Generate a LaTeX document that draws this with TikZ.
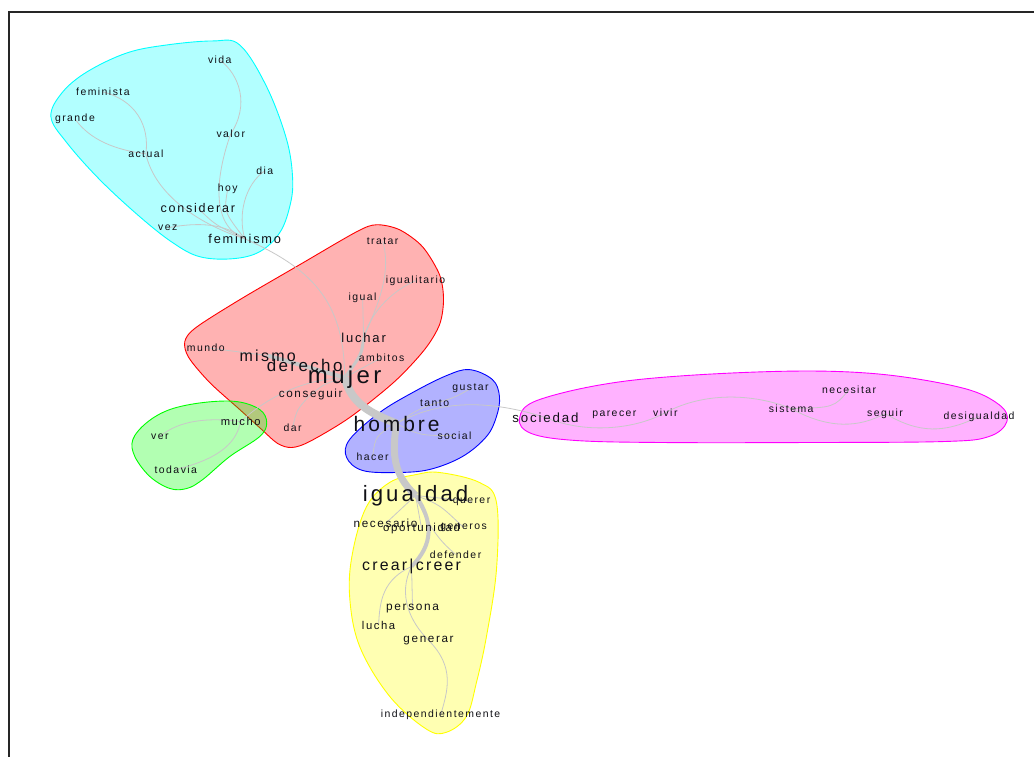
\documentclass[tikz,border=0pt]{standalone}
\usepackage{fontspec}
\setmainfont{Liberation Sans}[LetterSpace=14]
\definecolor{txt}{RGB}{16,16,22}
\definecolor{edgec}{RGB}{200,200,200}
\definecolor{ccyan}{RGB}{0,255,255}
\definecolor{cred}{RGB}{255,0,0}
\definecolor{cgreen}{RGB}{0,255,0}
\definecolor{cblue}{RGB}{0,0,255}
\definecolor{cmag}{RGB}{255,0,255}
\definecolor{cyel}{RGB}{255,255,0}
\pgfdeclarelayer{bg}
\pgfdeclarelayer{mid}
\pgfsetlayers{bg,mid,main}
\begin{document}
\begin{tikzpicture}[x=1pt,y=-1pt,
  lbl/.style={inner sep=0pt, text=txt, font=\fontsize{#1}{#1}\selectfont},
  lbl/.default=10.45,
  edge/.style={draw=edgec, line width=0.8pt},
  bigedge/.style={draw=edgec, line width=#1},
  cluster/.style={draw=#1, line width=0.9pt, fill=#1, fill opacity=0.3},
]
\begin{pgfonlayer}{bg}
\useasboundingbox (0,0) rectangle (1035,758);
\fill[white] (0,0) rectangle (1035,758);
% clusters
\draw[cluster=ccyan] plot[smooth cycle, tension=0.6] coordinates {(213,41) (240,45) (267,87) (287,140) (293,180) (290,207) (280,233) (260,252) (233,259) (200,257) (173,243) (140,217) (100,180) (67,143) (51,117) (62,93) (87,72) (127,53) (167,45)};
\draw[cluster=cred] plot[smooth cycle, tension=0.5] coordinates {(377,225) (400,230) (423,247) (440,275) (444,300) (440,325) (425,350) (395,382) (350,418) (310,442) (292,448) (278,444) (262,430) (240,410) (210,383) (189,358) (185,342) (196,328) (240,300) (300,265) (357,232)};
\draw[cluster=cgreen] plot[smooth cycle, tension=0.6] coordinates {(133,440) (147,423) (170,410) (203,403) (237,402) (260,410) (267,423) (260,437) (230,457) (203,480) (187,489) (170,489) (150,477) (135,457)};
\draw[cluster=cblue] plot[smooth cycle, tension=0.6] coordinates {(470,370) (493,380) (500,397) (497,417) (487,437) (463,457) (430,470) (397,473) (363,471) (347,458) (350,440) (380,413) (413,393) (447,376)};
\draw[cluster=cmag] plot[smooth cycle, tension=0.6] coordinates {(520,419) (540,400) (630,381) (770,372) (875,374) (962,388) (1000,405) (1008,422) (990,437) (945,442) (805,443) (665,443) (577,441) (532,434)};
\draw[cluster=cyel] plot[smooth cycle, tension=0.6] coordinates {(440,473) (480,483) (497,503) (497,570) (487,637) (477,683) (467,717) (447,733) (427,730) (390,697) (360,647) (350,597) (353,553) (367,507) (390,483) (417,475)};
\end{pgfonlayer}
% frame
\draw[line width=2.2pt, black!85] (1035,12) -- (9,12) -- (9,758);

% nodes (cyan)
\node[lbl] (vida) at (220,60) {vida};
\node[lbl] (feminista) at (103,92) {feminista};
\node[lbl] (grande) at (75,119) {grande};
\node[lbl] (valor) at (231,134) {valor};
\node[lbl] (actual) at (146,154) {actual};
\node[lbl] (dia) at (265,171) {dia};
\node[lbl] (hoy) at (228,189) {hoy};
\node[lbl=12.55] (considerar) at (198,208) {considerar};
\node[lbl] (vez) at (168,228) {vez};
\node[lbl=12.8] (feminismo) at (245,239) {feminismo};
% red
\node[lbl] (tratar) at (383,241) {tratar};
\node[lbl] (igualitario) at (416,281) {igualitario};
\node[lbl] (igual) at (363,298) {igual};
\node[lbl=13] (luchar) at (364,338) {luchar};
\node[lbl] (mundo) at (206,348) {mundo};
\node[lbl=16] (mismo) at (268,356) {mismo};
\node[lbl] (ambitos) at (382,358) {ambitos};
\node[lbl=17] (derecho) at (305,366) {derecho};
\node[lbl=24] (mujer) at (345,378) {mujer};
\node[lbl=11.7] (conseguir) at (311,395) {conseguir};
\node[lbl] (dar) at (293,428) {dar};
% green
\node[lbl=11.2] (mucho) at (241,422) {mucho};
\node[lbl] (ver) at (160,437) {ver};
\node[lbl] (todavia) at (176,470) {todavia};
% blue
\node[lbl] (gustar) at (471,389) {gustar};
\node[lbl] (tanto) at (435,404) {tanto};
\node[lbl=21] (hombre) at (397,424) {hombre};
\node[lbl] (social) at (455,436) {social};
\node[lbl] (hacer) at (373,457) {hacer};
% magenta
\node[lbl=13.3] (sociedad) at (546,418) {sociedad};
\node[lbl] (parecer) at (615,415) {parecer};
\node[lbl] (vivir) at (666,413) {vivir};
\node[lbl] (sistema) at (792,409) {sistema};
\node[lbl] (necesitar) at (850,390) {necesitar};
\node[lbl] (seguir) at (886,414) {seguir};
\node[lbl] (desigualdad) at (980,417) {desigualdad};
% yellow
\node[lbl=22.2] (igualdad) at (416,496) {igualdad};
\node[lbl] (querer) at (472,502) {querer};
\node[lbl=11.7] (necesario) at (386,524) {necesario};
\node[lbl=11.5] (oportunidad) at (422,529) {oportunidad};
\node[lbl] (generos) at (464,528) {generos};
\node[lbl] (defender) at (456,555) {defender};
\node[lbl=15.9] (crear) at (412,567) {crear|creer};
\node[lbl=11.9] (persona) at (413,609) {persona};
\node[lbl=11.3] (lucha) at (379,626) {lucha};
\node[lbl=11.7] (generar) at (429,641) {generar};
\node[lbl] (indep) at (441,716) {independientemente};

\begin{pgfonlayer}{mid}
% cyan edges
\draw[edge] (vida.center) .. controls (240,75) and (250,105) .. (valor.center);
\draw[edge] (valor.center) .. controls (218,170) and (208,225) .. (feminismo.center);
\draw[edge] (feminista.center) .. controls (135,100) and (150,125) .. (actual.center);
\draw[edge] (grande.center) .. controls (90,140) and (115,150) .. (actual.center);
\draw[edge] (actual.center) .. controls (155,195) and (200,225) .. (feminismo.center);
\draw[edge] (dia.center) .. controls (245,185) and (238,215) .. (feminismo.center);
\draw[edge] (hoy.center) .. controls (224,212) .. (feminismo.center);
\draw[edge] (considerar.center) .. controls (215,225) .. (feminismo.center);
\draw[edge] (vez.center) .. controls (200,222) and (225,224) .. (feminismo.center);
\draw[edge] (feminismo.center) .. controls (310,268) and (345,300) .. (mujer.center);
% red edges
\draw[edge] (tratar.center) .. controls (393,275) and (376,310) .. (luchar.center);
\draw[edge] (igualitario.center) .. controls (395,290) and (372,310) .. (luchar.center);
\draw[edge] (igual.center) -- (luchar.center);
\draw[bigedge=3pt] (luchar.center) .. controls (362,355) .. (mujer.center);
\draw[edge] (ambitos.center) -- (mujer.center);
\draw[bigedge=4pt] (mismo.center) -- (mujer.center);
\draw[edge] (derecho.center) -- (mujer.center);
\draw[edge] (mundo.center) -- (mismo.center);
\draw[edge] (conseguir.center) .. controls (325,384) .. (mujer.center);
\draw[edge] (dar.center) .. controls (297,410) .. (conseguir.center);
\draw[edge] (mucho.center) .. controls (265,400) and (300,380) .. (mujer.center);
% green edges
\draw[edge] (ver.center) .. controls (180,420) and (210,418) .. (mucho.center);
\draw[edge] (todavia.center) .. controls (225,458) and (237,440) .. (mucho.center);
% blue edges
\draw[bigedge=8pt] (mujer.center) .. controls (352,405) and (372,414) .. (hombre.center);
\draw[bigedge=7pt] (hombre.center) .. controls (392,455) and (394,475) .. (igualdad.center);
\draw[edge] (hombre.center) .. controls (418,410) .. (tanto.center);
\draw[edge] (tanto.center) .. controls (455,398) .. (gustar.center);
\draw[edge] (hombre.center) .. controls (440,400) and (490,400) .. (sociedad.center);
\draw[edge] (hombre.center) .. controls (420,436) .. (social.center);
\draw[edge] (hombre.center) .. controls (376,436) .. (hacer.center);
% magenta edges
\draw[edge] (sociedad.center) .. controls (590,436) and (640,428) .. (vivir.center);
\draw[edge] (vivir.center) .. controls (710,390) and (760,396) .. (sistema.center);
\draw[edge] (sistema.center) .. controls (835,408) .. (necesitar.center);
\draw[edge] (sistema.center) .. controls (830,430) and (860,428) .. (seguir.center);
\draw[edge] (seguir.center) .. controls (920,434) and (945,434) .. (desigualdad.center);
% yellow edges
\draw[bigedge=4pt] (igualdad.center) .. controls (434,522) and (434,545) .. (crear.center);
\draw[edge] (igualdad.center) -- (necesario.center);
\draw[edge] (igualdad.center) -- (oportunidad.center);
\draw[edge] (igualdad.center) -- (querer.center);
\draw[edge] (igualdad.center) .. controls (440,505) .. (generos.center);
\draw[edge] (igualdad.center) .. controls (432,535) and (445,545) .. (defender.center);
\draw[edge] (crear.center) .. controls (384,580) and (380,600) .. (lucha.center);
\draw[edge] (crear.center) -- (persona.center);
\draw[edge] (crear.center) .. controls (398,595) and (410,622) .. (generar.center);
\draw[edge] (generar.center) .. controls (456,668) and (448,692) .. (indep.center);
\end{pgfonlayer}
\end{tikzpicture}
\end{document}
